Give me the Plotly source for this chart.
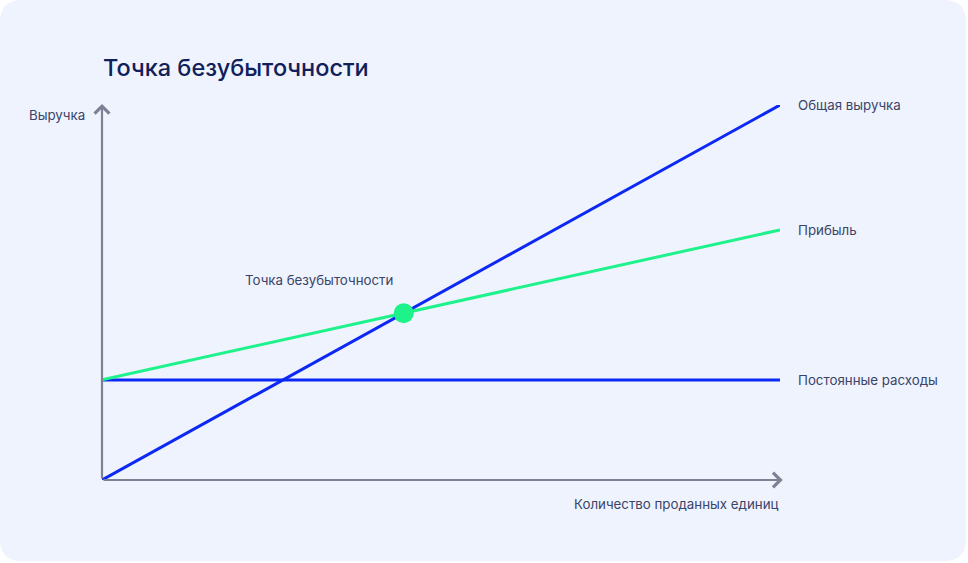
import plotly.graph_objects as go

# data (arbitrary units)
quantity = [0, 100]
total_revenue = [0, 100]
fixed_costs = [26.7, 26.7]
profit_line = [26.7, 66.7]

series_names = ["Общая выручка", "Прибыль", "Постоянные расходы"]
title_text = "Точка безубыточности"
y_label = "Выручка"
x_label = "Количество проданных единиц"
point_label = "Точка безубыточности"

BLUE = "#0c28f5"
GREEN = "#1ef28a"
AXIS = "#7c8194"
TEXT = "#3a4468"
CARD = "#eff3fe"

W, H = 968, 563
L, R, T, B = 102, 188, 105, 83

# break-even: where revenue meets the green line
slope_rev = (total_revenue[1] - total_revenue[0]) / (quantity[1] - quantity[0])
slope_pr = (profit_line[1] - profit_line[0]) / (quantity[1] - quantity[0])
be_x = (profit_line[0] - total_revenue[0]) / (slope_rev - slope_pr)
be_y = total_revenue[0] + slope_rev * be_x

fig = go.Figure()
fig.add_trace(go.Scatter(x=quantity, y=fixed_costs, mode="lines",
                         line=dict(color=BLUE, width=3), name=series_names[2]))
fig.add_trace(go.Scatter(x=quantity, y=profit_line, mode="lines",
                         line=dict(color=GREEN, width=3), name=series_names[1]))
fig.add_trace(go.Scatter(x=quantity, y=total_revenue, mode="lines",
                         line=dict(color=BLUE, width=3), name=series_names[0]))
fig.add_trace(go.Scatter(x=[be_x], y=[be_y], mode="markers",
                         marker=dict(color=GREEN, size=20), name=point_label))


# card background with rounded corners (paper coords)
def px2paper(px, py):
    return (px - L) / (W - L - R), (H - B - py) / (H - T - B)


x0, y0, x1, y1, r = 0, 0, 966, 561, 22
pts = [
    ("M", x0 + r, y0), ("L", x1 - r, y0), ("Q", x1, y0, x1, y0 + r),
    ("L", x1, y1 - r), ("Q", x1, y1, x1 - r, y1), ("L", x0 + r, y1),
    ("Q", x0, y1, x0, y1 - r), ("L", x0, y0 + r), ("Q", x0, y0, x0 + r, y0),
]
path = ""
for p in pts:
    coords = []
    for i in range(1, len(p), 2):
        a, b = px2paper(p[i], p[i + 1])
        coords.append(f"{a:.5f},{b:.5f}")
    path += p[0] + " " + " ".join(coords) + " "
path += "Z"

shapes = [
    dict(type="path", xref="paper", yref="paper", path=path,
         fillcolor=CARD, line=dict(width=0), layer="below"),
]

axis_font = dict(size=13.3, color=TEXT)
annotations = [
    # axes with open arrow heads
    dict(x=0, y=100.3, ax=0, ay=0, xref="x", yref="y", axref="x", ayref="y",
         text="", showarrow=True, arrowhead=4, arrowsize=1.3, arrowwidth=2.2,
         arrowcolor=AXIS, standoff=0),
    dict(x=100.4, y=0, ax=0, ay=0, xref="x", yref="y", axref="x", ayref="y",
         text="", showarrow=True, arrowhead=4, arrowsize=1.3, arrowwidth=2.2,
         arrowcolor=AXIS, standoff=0),
    dict(text=title_text, xref="paper", yref="paper", x=px2paper(101, 0)[0],
         y=px2paper(0, 67)[1], xanchor="left", yanchor="middle", showarrow=False,
         font=dict(size=23.5, color="#10205a", weight=500)),
    dict(text=y_label, xref="paper", yref="y", x=px2paper(87, 0)[0], y=100,
         xanchor="right", yanchor="middle", yshift=-10, showarrow=False,
         font=axis_font),
    dict(text=x_label, xref="x", yref="paper", x=100, y=px2paper(0, 504)[1],
         xanchor="right", yanchor="middle", showarrow=False, font=axis_font),
    dict(text=point_label, x=be_x, y=be_y, xanchor="right", yanchor="middle",
         xshift=-9, yshift=33, showarrow=False, font=axis_font),
    dict(text=series_names[0], x=quantity[1], y=total_revenue[1], xanchor="left",
         yanchor="middle", xshift=16, showarrow=False, font=axis_font),
    dict(text=series_names[1], x=quantity[1], y=profit_line[1], xanchor="left",
         yanchor="middle", xshift=16, showarrow=False, font=axis_font),
    dict(text=series_names[2], x=quantity[1], y=fixed_costs[1], xanchor="left",
         yanchor="middle", xshift=16, showarrow=False, font=axis_font),
]

fig.update_layout(
    width=W, height=H,
    margin=dict(l=L, r=R, t=T, b=B),
    paper_bgcolor="white", plot_bgcolor="rgba(0,0,0,0)",
    showlegend=False,
    font=dict(family="Inter, Roboto, sans-serif"),
    xaxis=dict(range=[0, 100], visible=False, fixedrange=True),
    yaxis=dict(range=[0, 100], visible=False, fixedrange=True),
    shapes=shapes, annotations=annotations,
)

fig.write_html("out.html", config=dict(displayModeBar=False),
               post_script="document.body.style.margin='0';")
